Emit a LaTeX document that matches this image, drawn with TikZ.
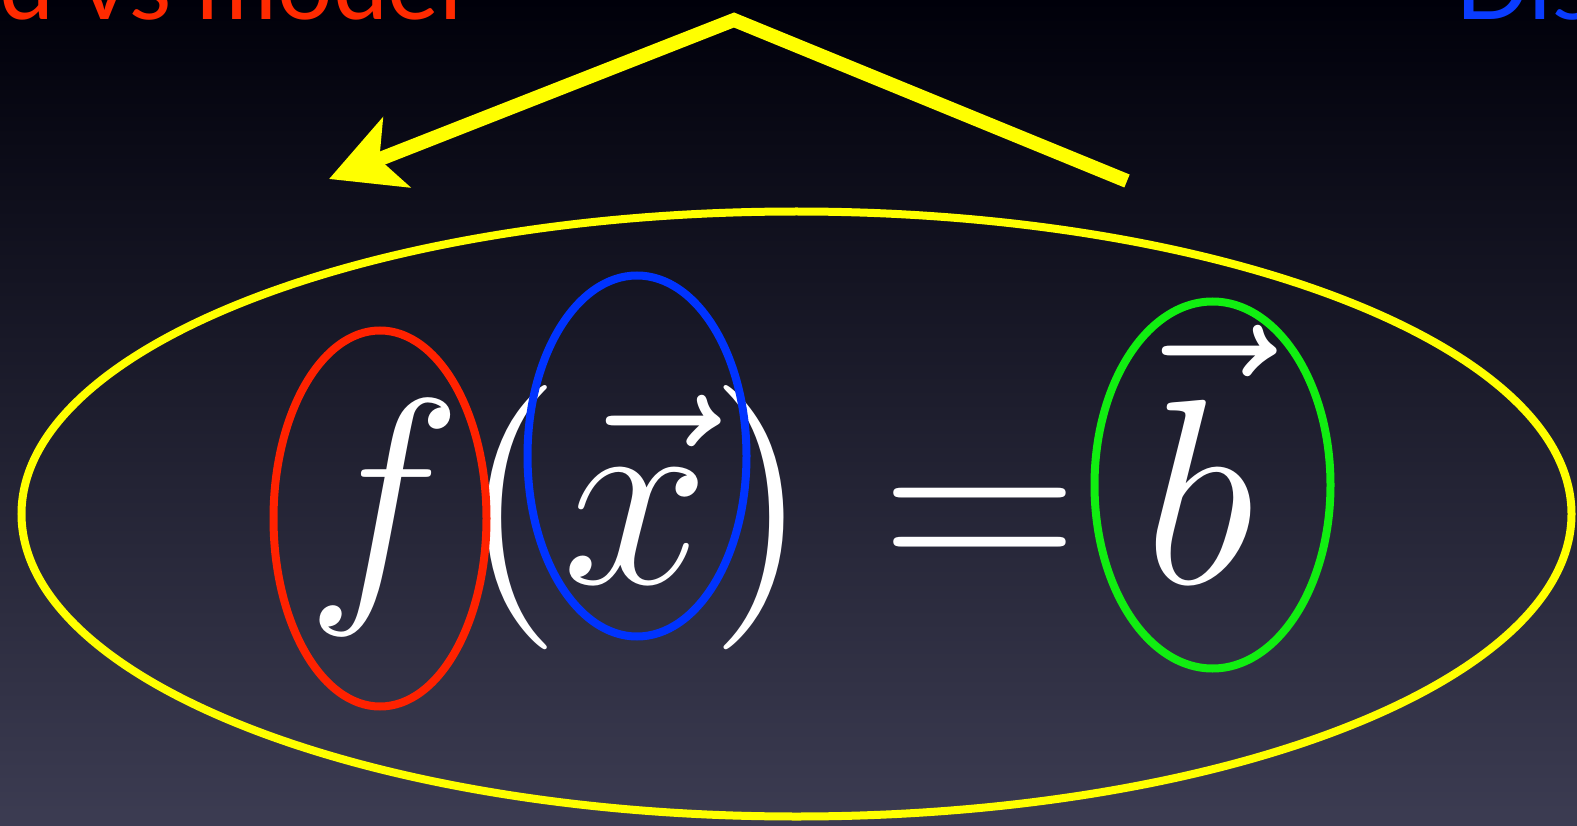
\documentclass[tikz,border=0pt]{standalone}
\usepackage{fontspec}
\setmainfont{Lato}
\usetikzlibrary{arrows.meta}
\definecolor{bgtop}{HTML}{00000A}
\definecolor{bgmid}{HTML}{141429}
\definecolor{bgbot}{HTML}{3C3C52}
\definecolor{ttlred}{HTML}{FF2A00}
\definecolor{ttlblue}{HTML}{0A3CFF}
\definecolor{ringred}{HTML}{FF2200}
\definecolor{ringblue}{HTML}{0033FF}
\definecolor{ringgreen}{HTML}{11EE11}
\definecolor{ringyellow}{HTML}{FFFF00}
\tikzset{
  ring/.style={line width=8pt},
  mathtxt/.style={text=white, inner sep=0pt, font=\fontsize{12}{14}\selectfont, scale=22},
  ttl/.style={inner sep=0pt, font=\fontsize{98}{110}\selectfont},
  bigarrow/.style={ringyellow, line width=14pt, -{Stealth[length=72pt,width=74pt,inset=18pt]}}
}
\begin{document}
\begin{tikzpicture}[x=1pt,y=-1pt]
\useasboundingbox (0,0) rectangle (1577,826);
\clip (0,0) rectangle (1577,826);
\shade[top color=bgtop, middle color=bgmid, bottom color=bgbot] (0,0) rectangle (1577,826);
% titles (clipped at the top)
\node[ttl, text=ttlred, anchor=base east] (ttlL) at (463,20) {d vs model};
\node[ttl, text=ttlblue, anchor=base west] (ttlR) at (1455,20) {Dis};
% arrow
\coordinate (armR) at (1127,181);
\coordinate (apex) at (734,20);
\coordinate (tip) at (329,179);
\draw[bigarrow] (armR) -- (apex) -- (tip);
% equation
\node[mathtxt, anchor=base west] (lhs) at (302,583) {$f(\vec{x})$};
\node[mathtxt, anchor=base west] (eq) at (875,583) {$=$};
\node[mathtxt, anchor=base west] (rhs) at (1140,583) {$\vec{b}$};
% rings
\draw[ringyellow, line width=8pt] (796.5,514) ellipse [x radius=775, y radius=302.5];
\draw[ring, ringred] (380,518.5) ellipse [x radius=106.5, y radius=188];
\draw[ring, ringblue] (637,456) ellipse [x radius=109.5, y radius=180.5];
\draw[ring, ringgreen] (1212.5,485) ellipse [x radius=118, y radius=183.5];
\end{tikzpicture}
\end{document}
